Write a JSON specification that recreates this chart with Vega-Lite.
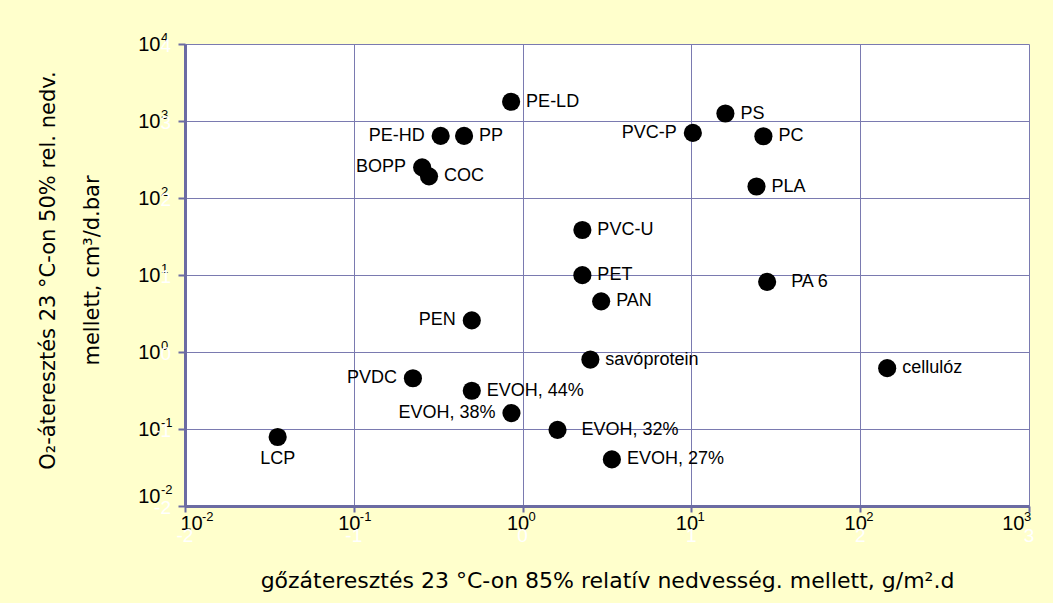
{
  "$schema": "https://vega.github.io/schema/vega-lite/v6.json",
  "width": 844,
  "height": 462,
  "autosize": {"type": "none"},
  "padding": {"left": 185, "top": 44, "right": 24, "bottom": 97},
  "background": "#FFFFCC",
  "config": {
    "view": {"fill": "white", "stroke": null},
    "font": "Liberation Sans",
    "text": {"font": "Liberation Sans"}
  },
  "datasets": {
    "pts": [
      {"name": "PE-LD", "wvtr": 0.855, "otr": 1780, "pos": "r"},
      {"name": "PE-HD", "wvtr": 0.327, "otr": 640, "pos": "l"},
      {"name": "PP", "wvtr": 0.45, "otr": 640, "pos": "r"},
      {"name": "BOPP", "wvtr": 0.254, "otr": 250, "pos": "l"},
      {"name": "COC", "wvtr": 0.279, "otr": 191, "pos": "r"},
      {"name": "PS", "wvtr": 15.9, "otr": 1250, "pos": "r"},
      {"name": "PVC-P", "wvtr": 10.2, "otr": 700, "pos": "l"},
      {"name": "PC", "wvtr": 26.7, "otr": 634, "pos": "r"},
      {"name": "PLA", "wvtr": 24.3, "otr": 141, "pos": "r"},
      {"name": "PVC-U", "wvtr": 2.26, "otr": 38.4, "pos": "r"},
      {"name": "PET", "wvtr": 2.26, "otr": 9.94, "pos": "r"},
      {"name": "PAN", "wvtr": 2.92, "otr": 4.55, "pos": "r"},
      {"name": "PA 6", "wvtr": 28.1, "otr": 8.15, "pos": "f"},
      {"name": "PEN", "wvtr": 0.5, "otr": 2.57, "pos": "l"},
      {"name": "savóprotein", "wvtr": 2.52, "otr": 0.798, "pos": "r"},
      {"name": "PVDC", "wvtr": 0.224, "otr": 0.456, "pos": "l"},
      {"name": "EVOH, 44%", "wvtr": 0.5, "otr": 0.314, "pos": "r"},
      {"name": "EVOH, 38%", "wvtr": 0.859, "otr": 0.161, "pos": "l"},
      {"name": "EVOH, 32%", "wvtr": 1.61, "otr": 0.0975, "pos": "f"},
      {"name": "EVOH, 27%", "wvtr": 3.38, "otr": 0.0403, "pos": "r"},
      {"name": "LCP", "wvtr": 0.0354, "otr": 0.0788, "pos": "b"},
      {"name": "cellulóz", "wvtr": 144.5, "otr": 0.617, "pos": "r"}
    ],
    "xticks": [
      {"v": 0.01, "e": "-2"},
      {"v": 0.1, "e": "-1"},
      {"v": 1, "e": "0"},
      {"v": 10, "e": "1"},
      {"v": 100, "e": "2"},
      {"v": 1000, "e": "3"}
    ],
    "yticks": [
      {"v": 0.01, "e": "-2"},
      {"v": 0.1, "e": "-1"},
      {"v": 1, "e": "0"},
      {"v": 10, "e": "1"},
      {"v": 100, "e": "2"},
      {"v": 1000, "e": "3"},
      {"v": 10000, "e": "4"}
    ]
  },
  "layer": [
    {
      "data": {"name": "pts"},
      "mark": {"type": "circle", "size": 330, "color": "black", "opacity": 1},
      "encoding": {
        "x": {
          "field": "wvtr",
          "type": "quantitative",
          "scale": {"type": "log", "domain": [0.01, 1000]},
          "axis": {
            "values": [0.01, 0.1, 1, 10, 100, 1000],
            "labelExpr": "'10'",
            "labelFontSize": 20,
            "labelColor": "black",
            "labelFlush": true,
            "labelOffset": -5,
            "labelOverlap": false,
            "labelPadding": 1,
            "tickSize": 6,
            "tickWidth": 2,
            "tickColor": "#6B6BA3",
            "domainColor": "#6B6BA3",
            "domainWidth": 3,
            "grid": true,
            "gridColor": "#7A7AB0",
            "gridWidth": 1,
            "title": "gőzáteresztés 23 °C-on 85% relatív nedvesség. mellett, g/m².d",
            "titleFont": "DejaVu Sans",
            "titleFontSize": 22,
            "titleFontWeight": "normal",
            "titleColor": "black",
            "titleBaseline": "middle",
            "titleY": 74
          }
        },
        "y": {
          "field": "otr",
          "type": "quantitative",
          "scale": {"type": "log", "domain": [0.01, 10000]},
          "axis": {
            "values": [0.01, 0.1, 1, 10, 100, 1000, 10000],
            "labelExpr": "'10'",
            "labelFontSize": 20,
            "labelColor": "black",
            "labelFlush": false,
            "labelBaseline": {"condition": {"test": "datum.value < 0.05", "value": "bottom"}, "value": "middle"},
            "labelOverlap": false,
            "labelPadding": 18,
            "tickSize": 7,
            "tickWidth": 2,
            "tickColor": "#6B6BA3",
            "domainColor": "#6B6BA3",
            "domainWidth": 3,
            "grid": true,
            "gridColor": "#7A7AB0",
            "gridWidth": 1,
            "title": ["O₂-áteresztés 23  °C-on 50% rel. nedv.", "mellett, cm³/d.bar"],
            "titleFont": "DejaVu Sans",
            "titleFontSize": 21,
            "titleFontWeight": "normal",
            "titleColor": "black",
            "titleLineHeight": 44,
            "titleAngle": -90,
            "titleAlign": "center",
            "titleBaseline": "middle",
            "titleX": -137,
            "titleY": 226
          }
        }
      }
    },
    {
      "data": {"name": "pts"},
      "transform": [{"filter": "datum.pos == 'r'"}],
      "mark": {"type": "text", "align": "left", "baseline": "middle", "dx": 15, "fontSize": 18, "color": "black"},
      "encoding": {
        "x": {"field": "wvtr", "type": "quantitative"},
        "y": {"field": "otr", "type": "quantitative"},
        "text": {"field": "name"}
      }
    },
    {
      "data": {"name": "pts"},
      "transform": [{"filter": "datum.pos == 'f'"}],
      "mark": {"type": "text", "align": "left", "baseline": "middle", "dx": 24, "fontSize": 18, "color": "black"},
      "encoding": {
        "x": {"field": "wvtr", "type": "quantitative"},
        "y": {"field": "otr", "type": "quantitative"},
        "text": {"field": "name"}
      }
    },
    {
      "data": {"name": "pts"},
      "transform": [{"filter": "datum.pos == 'l'"}],
      "mark": {"type": "text", "align": "right", "baseline": "middle", "dx": -16, "fontSize": 18, "color": "black"},
      "encoding": {
        "x": {"field": "wvtr", "type": "quantitative"},
        "y": {"field": "otr", "type": "quantitative"},
        "text": {"field": "name"}
      }
    },
    {
      "data": {"name": "pts"},
      "transform": [{"filter": "datum.pos == 'b'"}],
      "mark": {"type": "text", "align": "center", "baseline": "middle", "dy": 22, "fontSize": 18, "color": "black"},
      "encoding": {
        "x": {"field": "wvtr", "type": "quantitative"},
        "y": {"field": "otr", "type": "quantitative"},
        "text": {"field": "name"}
      }
    },
    {
      "data": {"name": "xticks"},
      "transform": [{"filter": "datum.v > 0.05 && datum.v < 500"}],
      "mark": {"type": "text", "align": "left", "baseline": "middle", "dx": 6, "dy": 11, "fontSize": 13, "color": "black", "clip": false},
      "encoding": {
        "x": {"field": "v", "type": "quantitative"},
        "y": {"datum": 0.01, "type": "quantitative"},
        "text": {"field": "e"}
      }
    },
    {
      "data": {"name": "xticks"},
      "transform": [{"filter": "datum.v < 0.05"}],
      "mark": {"type": "text", "align": "left", "baseline": "middle", "dx": 17, "dy": 11, "fontSize": 13, "color": "black", "clip": false},
      "encoding": {
        "x": {"field": "v", "type": "quantitative"},
        "y": {"datum": 0.01, "type": "quantitative"},
        "text": {"field": "e"}
      }
    },
    {
      "data": {"name": "xticks"},
      "transform": [{"filter": "datum.v > 500"}],
      "mark": {"type": "text", "align": "left", "baseline": "middle", "dx": -5, "dy": 11, "fontSize": 13, "color": "black", "clip": false},
      "encoding": {
        "x": {"field": "v", "type": "quantitative"},
        "y": {"datum": 0.01, "type": "quantitative"},
        "text": {"field": "e"}
      }
    },
    {
      "data": {"name": "yticks"},
      "transform": [{"filter": "datum.v > 0.05"}],
      "mark": {"type": "text", "align": "left", "baseline": "middle", "dx": -24, "dy": -6, "fontSize": 13, "color": "black", "clip": false},
      "encoding": {
        "x": {"datum": 0.01, "type": "quantitative"},
        "y": {"field": "v", "type": "quantitative"},
        "text": {"field": "e"}
      }
    },
    {
      "data": {"name": "yticks"},
      "transform": [{"filter": "datum.v < 0.05"}],
      "mark": {"type": "text", "align": "left", "baseline": "middle", "dx": -24, "dy": -16, "fontSize": 13, "color": "black", "clip": false},
      "encoding": {
        "x": {"datum": 0.01, "type": "quantitative"},
        "y": {"field": "v", "type": "quantitative"},
        "text": {"field": "e"}
      }
    },
    {
      "data": {"name": "xticks"},
      "mark": {"type": "text", "align": "center", "baseline": "middle", "dy": 30, "fontSize": 19, "color": "white", "clip": false},
      "encoding": {
        "x": {"field": "v", "type": "quantitative"},
        "y": {"datum": 0.01, "type": "quantitative"},
        "text": {"field": "e"}
      }
    },
    {
      "data": {"name": "yticks"},
      "mark": {"type": "text", "align": "right", "baseline": "middle", "dx": -14, "dy": 2, "fontSize": 19, "color": "white", "clip": false},
      "encoding": {
        "x": {"datum": 0.01, "type": "quantitative"},
        "y": {"field": "v", "type": "quantitative"},
        "text": {"field": "e"}
      }
    }
  ]
}
